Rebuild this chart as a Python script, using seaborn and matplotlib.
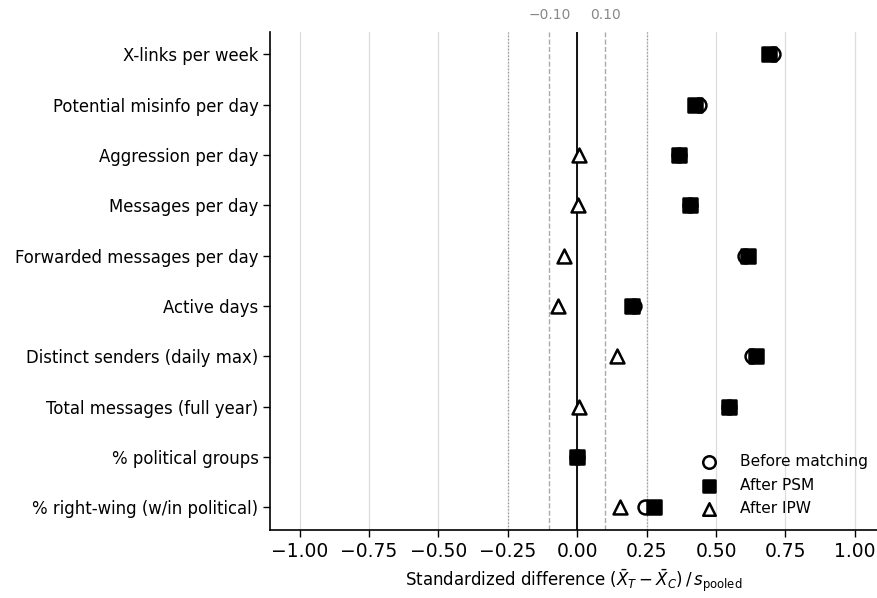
import numpy as np
import pandas as pd
import matplotlib
matplotlib.use("Agg")
import matplotlib.pyplot as plt
import seaborn as sns

covariates = [
    "X-links per week",
    "Potential misinfo per day",
    "Aggression per day",
    "Messages per day",
    "Forwarded messages per day",
    "Active days",
    "Distinct senders (daily max)",
    "Total messages (full year)",
    "% political groups",
    "% right-wing (w/in political)",
]
before_matching = [0.705, 0.440, 0.365, 0.405, 0.605, 0.205, 0.628, 0.545, 0.000, 0.245]
after_psm = [0.690, 0.425, 0.367, 0.407, 0.615, 0.197, 0.643, 0.547, 0.000, 0.277]
after_ipw = [np.nan, np.nan, 0.007, 0.003, -0.048, -0.068, 0.144, 0.007, np.nan, 0.153]

x_ticks = [-1.0, -0.75, -0.5, -0.25, 0.0, 0.25, 0.5, 0.75, 1.0]
threshold_ticks = [-0.10, 0.10]

sns.set_theme(style="ticks")
plt.rcParams["font.family"] = ["DejaVu Sans"]
plt.rcParams["text.color"] = "black"
plt.rcParams["axes.labelcolor"] = "black"

fig, ax = plt.subplots(figsize=(8.78, 5.98), dpi=100)
fig.subplots_adjust(left=0.308, right=0.999, top=0.947, bottom=0.114)

ypos = np.arange(len(covariates))
df = pd.DataFrame({"covariate": covariates, "y": ypos,
                   "Before matching": before_matching,
                   "After PSM": after_psm,
                   "After IPW": after_ipw})

# reference lines
for x in x_ticks:
    ax.axvline(x, color="#dddddd", lw=0.9, zorder=0)
for x in (-0.25, 0.25):
    ax.axvline(x, color="#999999", lw=0.9, ls=":", zorder=1)
for x in threshold_ticks:
    ax.axvline(x, color="#aaaaaa", lw=1.0, ls="--", zorder=1)
ax.axvline(0, color="black", lw=1.3, zorder=2)

styles = [
    ("Before matching", "o", "white"),
    ("After PSM", "s", "black"),
    ("After IPW", "^", "white"),
]
for i, (col, mk, fc) in enumerate(styles):
    sub = df.dropna(subset=[col])
    sns.scatterplot(data=sub, x=col, y="y", marker=mk, s=100,
                    facecolor=fc, edgecolor="black", linewidth=1.8,
                    ax=ax, zorder=3 + i, label=col)

ax.set_yticks(ypos)
ax.set_yticklabels(covariates, fontsize=11.9)
ax.set_ylim(len(covariates) - 0.55, -0.45)
ax.set_xlim(-1.105, 1.08)
ax.set_xticks(x_ticks)
ax.set_xticklabels([f"{v:.2f}".replace("-", "\u2212") for v in x_ticks], fontsize=13.5)
ax.set_xlabel(r"Standardized difference $(\bar{X}_T - \bar{X}_C)\,/\,s_{\mathrm{pooled}}$",
              fontsize=12, labelpad=5)
ax.set_ylabel("")
sns.despine(ax=ax)
for s in ("left", "bottom"):
    ax.spines[s].set_color("black")
    ax.spines[s].set_linewidth(1.2)
ax.tick_params(axis="both", colors="black", length=5, width=1)

top = ax.secondary_xaxis("top")
top.set_xticks(threshold_ticks)
top.set_xticklabels([f"{v:.2f}".replace("-", "\u2212") for v in threshold_ticks],
                    color="#888888", fontsize=10)
top.tick_params(length=0, pad=7)
top.spines["top"].set_visible(False)

leg = ax.legend(loc="lower right", bbox_to_anchor=(0.995, 0.015), frameon=False,
                fontsize=11.1, markerscale=0.9, handletextpad=1.0,
                borderaxespad=0.0, labelspacing=0.55)

fig.savefig("out.png", dpi=100)
